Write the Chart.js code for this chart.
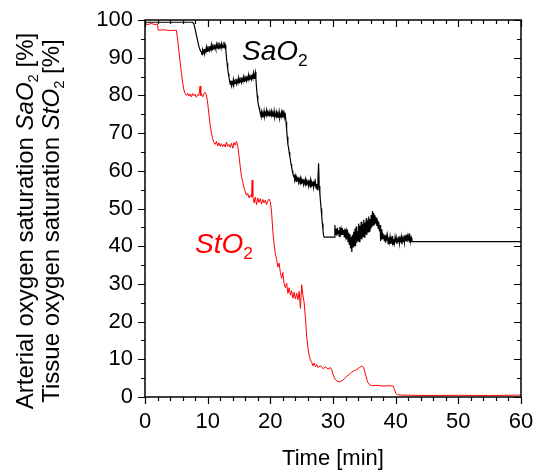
<!DOCTYPE html>
<html>
<head>
<meta charset="utf-8">
<script src="https://cdn.jsdelivr.net/npm/chart.js@4/dist/chart.umd.min.js"></script>
<style>
  html, body { margin: 0; padding: 0; background: #fff; }
</style>
</head>
<body>
<canvas id="sat" width="535" height="470"></canvas>
<script>
// arterial saturation SaO2 (time in min, value in %)
const saTime = [
  0, 7.6, 7.8, 8.0, 8.2, 8.4, 8.6, 8.8,
  9.0, 9.1, 9.2, 9.3, 9.4, 9.5, 9.6, 9.7, 9.8, 9.9,
  10.0, 10.1, 10.2, 10.3, 10.4, 10.5, 10.6, 10.7, 10.8, 10.9,
  11.0, 11.1, 11.2, 11.3, 11.4, 11.5, 11.6, 11.7, 11.8, 11.9,
  12.0, 12.1, 12.2, 12.3, 12.4, 12.5, 12.6, 12.7, 12.8, 12.9,
  13.0, 13.1, 13.2, 13.3, 13.4, 13.5,
  13.6, 13.7, 13.8, 13.9, 14.0, 14.1, 14.2, 14.3, 14.4, 14.5,
  14.6, 14.7, 14.8, 14.9, 15.0, 15.1, 15.2, 15.3, 15.4, 15.5,
  15.6, 15.7, 15.8, 15.9, 16.0, 16.1, 16.2, 16.3, 16.4, 16.5,
  16.6, 16.7, 16.8, 16.9, 17.0, 17.1, 17.2, 17.3, 17.4, 17.5,
  17.6, 17.7,
  17.8, 17.9, 18.0, 18.1, 18.2, 18.3, 18.4,
  18.5, 18.6, 18.7, 18.8, 18.9, 19.0, 19.1, 19.2, 19.3, 19.4,
  19.5, 19.6, 19.7, 19.8, 19.9, 20.0, 20.1, 20.2, 20.3, 20.4,
  20.5, 20.6, 20.7, 20.8, 20.9, 21.0, 21.1, 21.2, 21.3, 21.4,
  21.5, 21.6, 21.7, 21.8, 21.9, 22.0, 22.1, 22.2, 22.3, 22.4,
  22.5, 22.6, 22.7, 22.8, 22.9, 23.0, 23.1, 23.2, 23.3, 23.4, 23.5, 23.6, 23.7, 23.8,
  23.9, 24.0, 24.1, 24.2, 24.3, 24.4, 24.5, 24.6, 24.7, 24.8,
  24.9, 25.0, 25.1, 25.2, 25.3, 25.4, 25.5, 25.6, 25.7, 25.8,
  25.9, 26.0, 26.1, 26.2, 26.3, 26.4, 26.5, 26.6, 26.7, 26.8,
  26.9, 27.0, 27.1, 27.2, 27.3, 27.4, 27.5, 27.6, 27.7, 27.8,
  27.9, 28.0, 28.1, 28.2, 28.3, 28.4, 28.5, 28.6,
  30.2,
  30.3, 30.4, 30.5, 30.6, 30.7, 30.8, 30.9, 31.0, 31.1, 31.2,
  31.3, 31.4, 31.5, 31.6, 31.7, 31.8, 31.9, 32.0, 32.1, 32.2,
  32.3, 32.4, 32.5, 32.6, 32.7, 32.8, 32.9, 33.0, 33.1, 33.2,
  33.3, 33.4, 33.5, 33.6, 33.7, 33.8, 33.9, 34.0, 34.1, 34.2,
  34.3, 34.4, 34.5, 34.6, 34.7, 34.8, 34.9, 35.0, 35.1, 35.2,
  35.3, 35.4, 35.5, 35.6, 35.7, 35.8, 35.9, 36.0, 36.1, 36.2,
  36.3, 36.4, 36.5, 36.6, 36.7, 36.8, 36.9, 37.0, 37.1, 37.2,
  37.3, 37.4, 37.5, 37.6, 37.7, 37.8, 37.9, 38.0, 38.1, 38.2,
  38.3, 38.4, 38.5, 38.6, 38.7, 38.8, 38.9, 39.0, 39.1, 39.2,
  39.3, 39.4, 39.5, 39.6, 39.7, 39.8, 39.9, 40.0, 40.1, 40.2,
  40.3, 40.4, 40.5, 40.6, 40.7, 40.8, 40.9, 41.0, 41.1, 41.2,
  41.3, 41.4, 41.5, 41.6, 41.7, 41.8, 41.9, 42.0, 42.1, 42.2,
  42.3, 42.4, 42.5, 42.6, 60
];
const saValue = [
  99.4, 99.4, 99.0, 97.5, 96.0, 94.5, 93.0, 92.0,
  91.5, 90.8, 91.9, 91.2, 92.3, 91.0, 92.0, 91.6, 92.8, 91.7,
  92.4, 91.9, 93.1, 92.0, 92.7, 92.2, 93.4, 92.1, 92.9, 92.4,
  93.6, 92.5, 93.0, 92.3, 93.5, 92.6, 93.1, 92.4, 94.1, 92.8,
  93.3, 92.7, 93.7, 92.6, 93.2, 92.8, 94.2, 92.9, 93.4, 92.0,
  90.0, 88.5, 87.0, 85.8, 84.8, 83.8,
  83.0, 83.9, 82.6, 83.5, 83.0, 84.2, 82.9, 83.7, 83.2, 84.4,
  83.1, 83.9, 83.4, 84.6, 83.3, 84.1, 83.6, 84.8, 83.5, 84.3,
  83.8, 84.9, 83.7, 84.5, 84.0, 85.2, 83.9, 84.7, 84.2, 85.4,
  84.1, 84.9, 84.4, 85.5, 84.3, 85.1, 84.6, 85.9, 84.5, 85.3,
  86.2, 84.5,
  82.0, 80.0, 78.5, 77.5, 76.8, 76.0, 75.4,
  74.6, 75.6, 74.3, 75.2, 74.7, 75.9, 74.5, 75.3, 74.8, 76.0,
  74.6, 75.4, 74.9, 75.7, 74.4, 75.5, 74.9, 75.8, 74.5, 75.2,
  74.7, 75.9, 74.3, 75.1, 74.6, 75.6, 74.2, 75.0, 74.5, 75.7,
  74.1, 74.9, 74.4, 75.5, 74.3, 76.2, 74.6, 75.3, 74.2, 74.8,
  73.0, 71.0, 69.0, 67.0, 66.2, 65.0, 63.8, 63.0, 61.8, 61.0, 60.0, 59.3, 58.6, 58.8,
  57.8, 58.6, 57.2, 58.1, 57.5, 58.4, 56.9, 57.8, 57.1, 58.0,
  56.6, 57.5, 56.9, 57.9, 56.4, 57.3, 56.7, 57.7, 56.2, 57.1,
  56.5, 57.6, 56.0, 57.0, 56.3, 57.5, 55.8, 56.8, 56.1, 57.2,
  55.6, 56.9, 55.9, 57.0, 55.4, 56.5, 55.0, 58.0, 62.0, 56.0,
  54.0, 52.0, 50.0, 48.0, 46.0, 44.2, 42.8, 42.4,
  42.4,
  45.6, 43.0, 44.6, 42.8, 44.9, 43.3, 44.2, 42.6, 45.1, 43.4,
  44.5, 42.9, 44.8, 43.1, 44.3, 42.5, 44.7, 42.7, 43.9, 41.8,
  44.4, 41.2, 43.6, 40.5, 43.2, 39.4, 42.5, 38.5, 43.0, 39.8,
  43.8, 40.2, 44.6, 40.0, 45.2, 40.9, 44.0, 41.5, 46.0, 41.2,
  45.4, 42.0, 46.5, 41.8, 45.8, 42.6, 47.0, 42.4, 46.3, 43.2,
  47.4, 43.0, 46.8, 43.8, 47.9, 44.0, 47.2, 44.6, 48.3, 45.0,
  49.3, 45.6, 48.8, 45.9, 48.2, 46.1, 47.6, 45.4, 47.0, 44.8,
  46.5, 44.0, 45.6, 41.4, 44.5, 41.8, 43.6, 42.0, 43.2, 41.3,
  42.9, 40.9, 42.6, 41.5, 42.8, 40.7, 42.3, 41.1, 42.5, 40.6,
  42.0, 41.2, 42.7, 40.5, 41.9, 40.8, 42.4, 41.0, 42.2, 40.6,
  41.8, 41.2, 42.6, 40.7, 42.0, 41.0, 42.4, 40.5, 42.1, 41.3,
  42.8, 40.9, 42.3, 41.4, 43.0, 41.1, 42.6, 41.6, 43.4, 41.0,
  42.5, 41.4, 42.2, 41.2, 41.2
];

// tissue saturation StO2
const stTime = [
  0, 0.5, 1.0, 1.5, 2.0, 2.1, 3.0, 4.0, 5.0, 5.2,
  5.4, 5.6, 5.8, 6.0, 6.2, 6.4, 6.6, 6.8, 7.0, 7.2,
  7.4, 7.6, 7.8, 8.0, 8.2, 8.4, 8.6, 8.8, 8.9, 9.0,
  9.2, 9.4, 9.6, 9.8, 10.0, 10.2, 10.4, 10.6, 10.8, 11.0,
  11.2, 11.4, 11.6, 11.8, 12.0, 12.2, 12.4, 12.6, 12.8, 13.0,
  13.2, 13.4, 13.6, 13.8, 14.0, 14.2, 14.4, 14.6, 14.8, 15.0,
  15.2, 15.4, 15.6, 15.8, 16.0, 16.2, 16.4, 16.6, 16.8, 17.0,
  17.1, 17.2, 17.4, 17.6, 17.8, 18.0, 18.2, 18.4, 18.6, 18.8,
  19.0, 19.2, 19.4, 19.6, 19.8, 20.0, 20.2, 20.4, 20.6, 20.8,
  21.0, 21.2, 21.4, 21.6, 21.8, 22.0, 22.2, 22.4, 22.6, 22.8,
  23.0, 23.2, 23.4, 23.6, 23.8, 24.0, 24.2, 24.4, 24.6, 24.8,
  25.0, 25.2, 25.4, 25.6, 25.8, 26.0, 26.2, 26.4, 26.6, 26.8,
  27.0, 27.2, 27.4, 27.6, 28.0, 28.4, 28.8, 29.2, 29.6, 29.8,
  30.0, 30.3, 30.6, 31.0, 31.4, 31.8, 32.2, 32.6, 33.0, 33.4,
  33.8, 34.2, 34.6, 34.9, 35.2, 35.5, 35.8, 36.2, 37.0, 38.0,
  39.0, 39.6, 39.8, 40.0, 40.3, 41.0, 45.0, 50.0, 55.0, 60.0
];
const stValue = [
  99.0, 98.8, 99.1, 98.8, 98.9, 97.3, 97.4, 97.2, 97.3, 95.0,
  92.0, 89.0, 86.0, 83.5, 81.5, 80.5, 80.0, 80.6, 79.8, 80.4,
  79.6, 80.5, 79.9, 80.3, 79.5, 80.2, 80.0, 82.5, 80.0, 80.4,
  79.6, 80.5, 80.8, 80.2, 78.0, 75.0, 72.0, 70.0, 68.5, 67.5,
  67.0, 67.8, 66.6, 67.4, 66.5, 67.2, 66.4, 67.0, 66.3, 67.6,
  66.5, 67.0, 66.2, 67.3, 66.0, 67.5, 66.8, 67.8, 66.5, 64.0,
  61.0, 58.5, 57.0, 55.5, 54.5, 53.5, 54.0, 52.8, 53.5, 53.0,
  57.5, 53.2, 51.5, 53.0, 51.0, 52.8, 51.6, 52.6, 51.2, 52.4,
  51.5, 52.2, 51.0, 52.0, 52.5, 51.8, 49.0, 44.0, 40.5, 38.0,
  36.5, 34.5, 35.5, 33.0, 31.5, 33.0, 30.0, 29.0, 30.2, 27.5,
  29.0, 27.0, 28.2, 26.2, 27.8, 26.0, 27.5, 25.8, 28.0, 23.5,
  29.8, 27.0, 25.0, 21.0, 16.0, 13.0, 11.0, 9.8, 9.2, 8.3,
  9.0, 8.0, 8.6, 7.8, 8.3, 7.5, 8.0, 7.4, 7.8, 7.2,
  6.0, 4.8, 4.3, 4.0, 4.3, 4.8, 5.5, 6.0, 6.6, 7.0,
  7.3, 7.8, 8.2, 7.8, 6.0, 4.0, 3.3, 3.0, 3.1, 2.9,
  3.0, 2.9, 2.0, 1.0, 0.6, 0.5, 0.4, 0.45, 0.4, 0.5
];

const xTicks = [0, 10, 20, 30, 40, 50, 60];
const yTicks = [0, 10, 20, 30, 40, 50, 60, 70, 80, 90, 100];

const FONT = 'Arial, "Liberation Sans", sans-serif';
Chart.defaults.font.family = FONT;
Chart.defaults.color = '#000';

function pts(t, v) {
  return t.map((x, i) => ({ x: x, y: v[i] }));
}

// draws a run of text pieces (normal / italic / subscript) starting at x
function richText(ctx, parts, x, y, size) {
  let cx = x;
  parts.forEach(p => {
    const s = p.sub ? size * 0.62 : size;
    ctx.font = (p.it ? 'italic ' : '') + s + 'px ' + FONT;
    ctx.fillText(p.t, cx, y + (p.sub ? size * 0.22 : 0));
    cx += ctx.measureText(p.t).width;
  });
  return cx - x;
}
function richWidth(ctx, parts, size) {
  let w = 0;
  parts.forEach(p => {
    const s = p.sub ? size * 0.62 : size;
    ctx.font = (p.it ? 'italic ' : '') + s + 'px ' + FONT;
    w += ctx.measureText(p.t).width;
  });
  return w;
}

const framePlugin = {
  id: 'frame',
  afterDraw(chart) {
    const ctx = chart.ctx;
    const a = chart.chartArea;
    const xs = chart.scales.x, ys = chart.scales.y;
    ctx.save();
    ctx.strokeStyle = '#000';
    ctx.lineWidth = 1.5;
    ctx.strokeRect(a.left, a.top, a.right - a.left, a.bottom - a.top);
    ctx.lineWidth = 1.2;
    ctx.beginPath();
    for (let t = 0; t <= 60; t += 2) {
      const px = Math.round(xs.getPixelForValue(t)) + 0.5;
      const len = t % 10 === 0 ? 7 : 4;
      ctx.moveTo(px, a.bottom); ctx.lineTo(px, a.bottom + len);
      ctx.moveTo(px, a.top); ctx.lineTo(px, a.top + len);
    }
    for (let v = 0; v <= 100; v += 5) {
      const py = Math.round(ys.getPixelForValue(v)) + 0.5;
      const len = v % 10 === 0 ? 7 : 4;
      ctx.moveTo(a.left, py); ctx.lineTo(a.left - len, py);
      ctx.moveTo(a.right, py); ctx.lineTo(a.right - len, py);
    }
    ctx.stroke();

    // labels inside the plot
    ctx.textBaseline = 'alphabetic';
    ctx.textAlign = 'left';
    ctx.fillStyle = '#000';
    richText(ctx, [{ t: 'SaO', it: true }, { t: '2', sub: true }], 242, 60, 28);
    ctx.fillStyle = '#ff0000';
    richText(ctx, [{ t: 'StO', it: true }, { t: '2', sub: true }], 195, 253, 28);

    // two-line y axis title
    ctx.fillStyle = '#000';
    const lines = [
      { x: 33, parts: [{ t: 'Arterial oxygen saturation ' }, { t: 'SaO', it: true }, { t: '2', sub: true }, { t: ' [%]' }] },
      { x: 59, parts: [{ t: 'Tissue oxygen saturation ' }, { t: 'StO', it: true }, { t: '2', sub: true }, { t: ' [%]' }] }
    ];
    lines.forEach(l => {
      const w = richWidth(ctx, l.parts, 24);
      ctx.save();
      ctx.translate(l.x, 221);
      ctx.rotate(-Math.PI / 2);
      richText(ctx, l.parts, -w / 2, 0, 24);
      ctx.restore();
    });
    ctx.restore();
  }
};

new Chart(document.getElementById('sat'), {
  type: 'line',
  data: {
    datasets: [
      {
        label: 'SaO2',
        data: pts(saTime, saValue),
        borderColor: '#000',
        borderWidth: 1.2,
        pointRadius: 0,
        tension: 0
      },
      {
        label: 'StO2',
        data: pts(stTime, stValue),
        borderColor: '#ff0000',
        borderWidth: 1,
        pointRadius: 0,
        tension: 0
      }
    ]
  },
  options: {
    responsive: false,
    animation: false,
    maintainAspectRatio: false,
    layout: { padding: { left: 0, right: 14, top: 20, bottom: 0 } },
    plugins: {
      legend: { display: false },
      tooltip: { enabled: false }
    },
    scales: {
      x: {
        type: 'linear',
        min: 0,
        max: 60,
        afterBuildTicks: s => { s.ticks = xTicks.map(v => ({ value: v })); },
        afterFit: s => { s.height = 73; s.paddingLeft = 0; s.paddingRight = 0; },
        grid: { display: false, drawTicks: false },
        border: { display: false },
        ticks: { font: { size: 22 }, padding: 12, maxRotation: 0, color: '#000' },
        title: { display: true, text: 'Time [min]', font: { size: 22 }, padding: { top: 0, bottom: -2 }, color: '#000' }
      },
      y: {
        min: 0,
        max: 100,
        afterBuildTicks: s => { s.ticks = yTicks.map(v => ({ value: v })); },
        afterFit: s => { s.width = 145; s.paddingTop = 0; s.paddingBottom = 0; },
        grid: { display: false, drawTicks: false },
        border: { display: false },
        ticks: { font: { size: 22 }, padding: 12, color: '#000' }
      }
    }
  },
  plugins: [framePlugin]
});
</script>
</body>
</html>
